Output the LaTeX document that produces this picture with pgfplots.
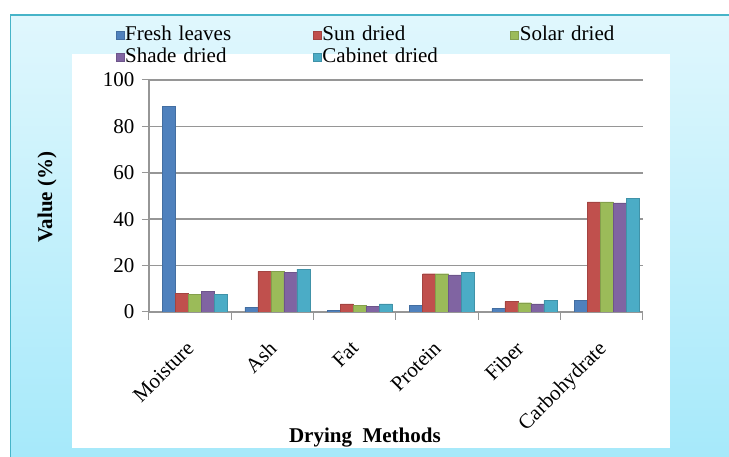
\documentclass[border=0pt]{standalone}
\usepackage{pgfplots}
\pgfplotsset{compat=1.18}
\usepackage{fontspec}
\setmainfont{Liberation Serif}
\definecolor{cBlue}{RGB}{79,129,189}
\definecolor{cRed}{RGB}{192,80,77}
\definecolor{cGreen}{RGB}{155,187,89}
\definecolor{cPurple}{RGB}{128,100,162}
\definecolor{cCyan}{RGB}{75,172,198}
\definecolor{bgTop}{RGB}{224,247,253}
\definecolor{bgBot}{RGB}{166,233,250}
\definecolor{frameC}{RGB}{70,180,200}
\definecolor{gridC}{RGB}{150,150,150}
\begin{document}
\begin{tikzpicture}[x=1pt,y=1pt]
\useasboundingbox (0,0) rectangle (729,457);
\fill[white] (0,0) rectangle (729,457);
\shade[top color=bgTop, bottom color=bgBot] (10.5,0) rectangle (729,442);
\draw[frameC, line width=1.2pt] (10.5,-2) -- (10.5,442) -- (731,442);
\fill[white] (72,9) rectangle (670,403);
\begin{axis}[
  at={(149pt,145pt)}, anchor=south west,
  scale only axis, width=494pt, height=232pt,
  ybar=0pt, bar width=13pt,
  xmin=-0.5, xmax=5.5, ymin=0, ymax=100,
  ytick={0,20,...,100},
  xtick={0,...,5},
  xticklabels={Moisture,Ash,Fat,Protein,Fiber,Carbohydrate},
  minor xtick={-0.5,0.5,...,5.5},
  major x tick style={draw=none},
  tick align=outside,
  major tick length=7pt, minor tick length=8pt,
  tick style={gridC, line width=1pt},
  axis x line*=bottom, axis y line*=left,
  axis line style={gridC, line width=1.2pt},
  ymajorgrids, major grid style={gridC, line width=1.6pt},
  /pgf/number format/assume math mode=true,
  tick label style={font=\fontsize{21}{23}\selectfont},
  xticklabel style={xshift=-5pt, yshift=-16pt, rotate=45, anchor=north east},
  yticklabel style={xshift=-4pt},
  xlabel={\textbf{Drying\ \ Methods}},
  ylabel={\textbf{Value (\%)}},
  label style={font=\fontsize{21}{23}\selectfont},
  xlabel style={at={(axis description cs:0.437,-0.539)}, anchor=center},
  ylabel style={at={(axis description cs:-0.2065,0.496)}, anchor=center, rotate=0},
  legend columns=3,
  legend style={at={(axis description cs:-0.0739,1.25)}, anchor=north west,
    draw=none, fill=none, font=\fontsize{21}{22}\selectfont,
    nodes={text width=186pt, align=left, inner sep=1pt, text height=15pt, text depth=5pt},
    /tikz/every even column/.append style={column sep=1pt}},
  legend image code/.code={\fill[#1] (0pt,-4pt) rectangle (8pt,4pt);},
]
\addplot[draw=cBlue!85!black, fill=cBlue, bar shift=-21pt] coordinates {(0,88.5) (1,2) (2,0.6) (3,3) (4,1.5) (5,5)};
\addplot[draw=cRed!85!black, fill=cRed, bar shift=-8pt] coordinates {(0,8) (1,17.5) (2,3.5) (3,16.5) (4,4.5) (5,47.5)};
\addplot[draw=cGreen!85!black, fill=cGreen, bar shift=5pt] coordinates {(0,7.5) (1,17.5) (2,3) (3,16.5) (4,4) (5,47.5)};
\addplot[draw=cPurple!85!black, fill=cPurple, bar shift=18pt] coordinates {(0,9) (1,17) (2,2.5) (3,16) (4,3.5) (5,47)};
\addplot[draw=cCyan!85!black, fill=cCyan, bar shift=31pt] coordinates {(0,7.5) (1,18.5) (2,3.5) (3,17) (4,5) (5,49)};
\legend{Fresh leaves, Sun dried, Solar dried, Shade dried, Cabinet dried}
\end{axis}
\end{tikzpicture}
\end{document}
